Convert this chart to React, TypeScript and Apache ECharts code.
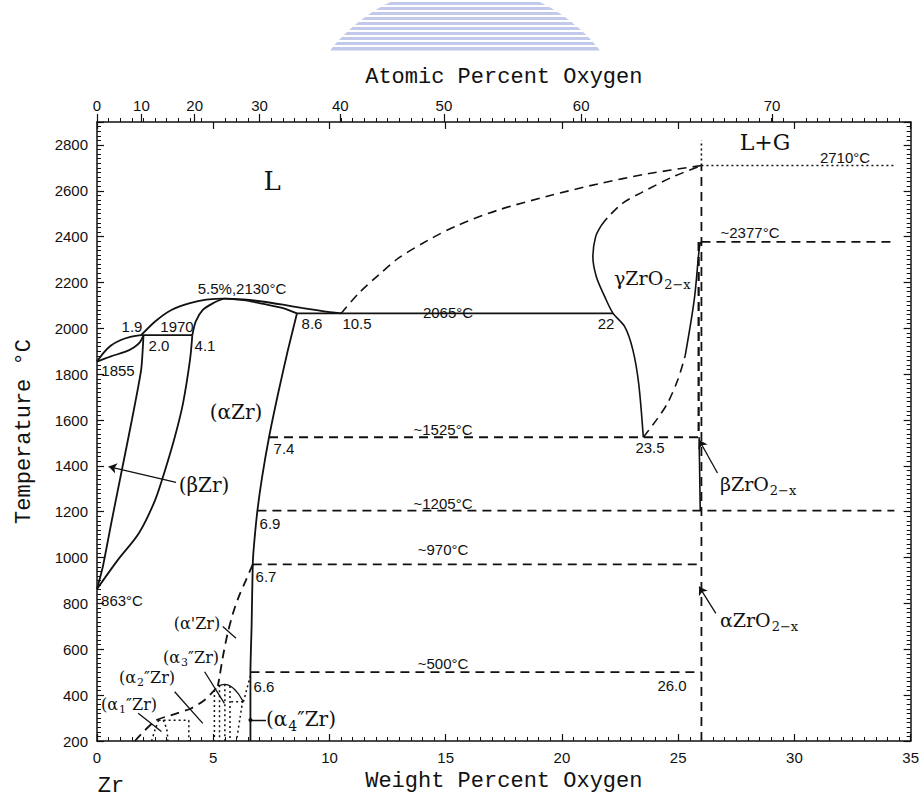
import React, { useEffect, useRef } from 'react';
import * as echarts from 'echarts';

const MONO = '"Liberation Mono", "DejaVu Sans Mono", monospace';
const SANS = '"Liberation Sans", Arial, sans-serif';
const SERIF = '"DejaVu Serif", "Liberation Serif", serif';
const INK = '#111';

// ---- axes ----
const atomicTicks = [0, 10, 20, 30, 40, 50, 60, 70];
const atToWt = (a: number) => (100 * 15.999 * a) / (15.999 * a + 91.224 * (100 - a));
const atomicWt = atomicTicks.map(atToWt);

// ---- phase boundaries [wt% O, °C] ----
const liquidusZr = [[0, 1855], [0.3, 1895], [0.6, 1925], [1.0, 1948], [1.4, 1962], [1.9, 1970]];
const solidusBeta = [[0, 1855], [0.6, 1878], [1.2, 1897], [1.6, 1918], [1.85, 1940], [2.0, 1970]];
const peritectic = [[1.9, 1970], [4.1, 1970]];
const betaTransus = [[2.0, 1970], [1.9, 1820], [1.5, 1600], [1.07, 1382], [0.64, 1164], [0.25, 960], [0, 863]];
const alphaBeta = [[0, 863], [0.9, 990], [1.8, 1106], [2.5, 1251], [2.93, 1382], [3.35, 1527], [3.7, 1673], [4.0, 1862], [4.1, 1970]];
const liquidusMax = [[1.9, 1970], [2.5, 2030], [3.2, 2080], [4.0, 2110], [4.7, 2125], [5.5, 2130], [6.3, 2126], [7.1, 2117], [8.0, 2103], [8.8, 2089], [9.7, 2075], [10.5, 2065]];
const solidusAlpha = [[4.1, 1970], [4.25, 2030], [4.55, 2080], [5.0, 2110], [5.5, 2130], [6.3, 2123], [7.1, 2108], [8.0, 2088], [8.6, 2065]];
const eutectic = [[8.6, 2065], [22.2, 2065]];
const alphaSolvus = [[8.6, 2065], [8.2, 1900], [7.8, 1720], [7.4, 1525], [7.1, 1350], [6.9, 1205], [6.75, 1050], [6.7, 970], [6.65, 700], [6.6, 500], [6.6, 200]];
const liquidusOx = [[10.5, 2065], [11.27, 2154], [12.12, 2233], [12.98, 2307], [14.27, 2386], [15.55, 2451], [17.26, 2516], [19.41, 2577], [21.55, 2630], [23.69, 2674], [26.0, 2710]];
const gammaLeftSolid = [[23.5, 1525], [23.3, 1760], [23.05, 1906], [22.7, 2007], [22.2, 2065], [21.84, 2138], [21.48, 2225], [21.33, 2313], [21.45, 2400], [21.7, 2450]];
const gammaLeftDashed = [[21.7, 2450], [22.0, 2487], [22.6, 2545], [23.4, 2591], [24.8, 2662], [26.0, 2710]];
const gammaRightDashed = [[23.5, 1525], [24.1, 1605], [24.55, 1675], [25.0, 1780], [25.3, 1880]];
const gammaRightSolid = [[25.3, 1880], [25.69, 2124], [25.9, 2342], [25.96, 2377]];
const stoichDotted = [[26, 2710], [26, 2820]];
const stoichDashed = [[26, 200], [26, 2710]];
const betaOxideDashed = [[25.88, 2377], [25.88, 1525]];
const betaOxideSolid = [[25.9, 1525], [25.95, 1205]];
const iso2710 = [[26, 2710], [34.3, 2710]];
const iso2377 = [[26, 2377], [34.3, 2377]];
const iso1525 = [[7.4, 1525], [25.9, 1525]];
const iso1205 = [[6.9, 1205], [34.3, 1205]];
const iso970 = [[6.7, 970], [26, 970]];
const iso500 = [[6.6, 500], [26, 500]];
const alphaPrime = [[6.7, 970], [6.4, 900], [6.1, 830], [5.85, 757], [5.62, 670], [5.42, 570], [5.27, 480], [5.2, 440]];
const orderBoundary = [[1.63, 200], [2.06, 247], [2.56, 291], [3.2, 313], [4.06, 343], [4.63, 379], [5.05, 422], [5.2, 440]];
const dome = [[5.2, 440], [5.48, 447], [5.77, 438], [6.05, 410], [6.27, 375]];
const dotA1Left = [[2.35, 200], [2.5, 250], [2.65, 291]];
const dotA1Top = [[2.65, 291], [3.95, 291]];
const dotA1Right = [[2.85, 291], [3.0, 250], [3.05, 200]];
const dotA2Right = [[3.95, 291], [3.95, 200]];
const dotV1 = [[5.05, 422], [5.05, 200]];
const dotV2 = [[5.27, 443], [5.27, 200]];
const dotV3 = [[5.5, 447], [5.5, 200]];
const dotV4 = [[5.72, 440], [5.72, 200]];
const dotRight = [[6.27, 375], [6.15, 300], [6.0, 200]];
const dotA4Top = [[5.77, 371], [6.3, 371]];
const dotA4Link = [[6.3, 371], [6.6, 485]];

// ---- annotation pointers (tip first) ----
const arrowsHead = [
  [[0.5, 1397], [3.4, 1328]],
  [[25.9, 1513], [26.69, 1369]],
  [[25.9, 873], [26.62, 757]],
];
const pointerLines = [
  [[1.77, 321], [2.77, 241]],
  [[3.34, 415], [4.55, 277]],
  [[4.63, 502], [5.48, 364]],
  [[5.41, 699], [5.98, 648]],
];
const dotPointer = [[[6.6, 292], [7.27, 292]]];

const DASH = [9, 6];
const DOT = [2, 3];
function seg(data: number[][], kind: 'solid' | 'dashed' | 'dotted', width = 1.8, smooth: number | boolean = false) {
  return {
    type: 'line',
    data,
    symbol: 'none',
    smooth,
    silent: true,
    xAxisIndex: 0,
    yAxisIndex: 0,
    lineStyle: { color: INK, width, type: kind === 'dashed' ? DASH : kind === 'dotted' ? DOT : 'solid' },
  };
}

type Lab = { t: string; x: number; y: number; f: string; s: number };
const plainLabels: Lab[] = [
  { t: '5.5%,2130°C', x: 242, y: 288, f: SANS, s: 15 },
  { t: '1.9', x: 132, y: 326, f: SANS, s: 15 },
  { t: '1970', x: 177, y: 326, f: SANS, s: 15 },
  { t: '2.0', x: 159, y: 345, f: SANS, s: 15 },
  { t: '4.1', x: 205, y: 345, f: SANS, s: 15 },
  { t: '1855', x: 118, y: 370, f: SANS, s: 15 },
  { t: '8.6', x: 312, y: 323, f: SANS, s: 15 },
  { t: '10.5', x: 357, y: 323, f: SANS, s: 15 },
  { t: '2065°C', x: 448, y: 312, f: SANS, s: 15 },
  { t: '22', x: 606, y: 323, f: SANS, s: 15 },
  { t: '~1525°C', x: 443, y: 429, f: SANS, s: 15 },
  { t: '7.4', x: 284, y: 448, f: SANS, s: 15 },
  { t: '23.5', x: 650, y: 447, f: SANS, s: 15 },
  { t: '~1205°C', x: 443, y: 503, f: SANS, s: 15 },
  { t: '6.9', x: 270, y: 523, f: SANS, s: 15 },
  { t: '~970°C', x: 443, y: 549, f: SANS, s: 15 },
  { t: '6.7', x: 266, y: 576, f: SANS, s: 15 },
  { t: '863°C', x: 122, y: 600, f: SANS, s: 15 },
  { t: '~500°C', x: 443, y: 663, f: SANS, s: 15 },
  { t: '6.6', x: 264, y: 686, f: SANS, s: 15 },
  { t: '26.0', x: 672, y: 685, f: SANS, s: 15 },
  { t: '2710°C', x: 845, y: 157, f: SANS, s: 15 },
  { t: '~2377°C', x: 750, y: 232, f: SANS, s: 15 },
  { t: 'L', x: 272, y: 181, f: SERIF, s: 26 },
  { t: 'L+G', x: 765, y: 142, f: SERIF, s: 22 },
  { t: '(αZr)', x: 236, y: 412, f: SERIF, s: 20 },
  { t: '(βZr)', x: 204, y: 485, f: SERIF, s: 20 },
  { t: "(α'Zr)", x: 197, y: 623, f: SERIF, s: 16 },
  { t: 'Zr', x: 111, y: 786, f: MONO, s: 22 },
];

function richLabel(main: string, sub: string, tail: string, x: number, y: number, size: number, align: string) {
  const txt = `{a|${main}}{s|${sub}}` + (tail ? `{a|${tail}}` : '');
  const pad = Math.round(size * 0.7);
  return {
    type: 'text',
    x,
    y,
    silent: true,
    style: {
      text: txt,
      align,
      verticalAlign: 'middle',
      textAlign: align,
      textVerticalAlign: 'middle',
      fill: INK,
      rich: {
        a: { fontFamily: SERIF, fontSize: size, color: INK },
        s: { fontFamily: SERIF, fontSize: Math.round(size * 0.7), color: INK, padding: [pad, 0, 0, 1] },
      },
    },
  };
}

// watermark (decoration): dome outline cut at y = 50, with horizontal white stripes
const wmPoints: number[][] = [];
for (let i = 0; i <= 40; i++) {
  const ang = 3.81 + ((5.615 - 3.81) * i) / 40;
  wmPoints.push([465 + 172 * Math.cos(ang), 157 + 172 * Math.sin(ang)]);
}
const stripeYs = [0, 5, 10, 15, 20, 25, 30, 35, 40, 45];

const option: any = {
  animation: false,
  backgroundColor: '#fff',
  grid: { left: 97, right: 8, top: 122, bottom: 59, containLabel: false },
  xAxis: [
    {
      type: 'value', position: 'bottom', min: 0, max: 35, interval: 5,
      axisLine: { show: true, onZero: false, lineStyle: { color: INK, width: 1.5 } },
      axisTick: { show: true, inside: true, length: 7, lineStyle: { color: INK, width: 1.2 } },
      minorTick: { show: true, splitNumber: 10, length: 4, lineStyle: { color: INK, width: 1 } },
      axisLabel: { color: INK, fontFamily: SANS, fontSize: 15, margin: 9 },
      splitLine: { show: false },
      name: 'Weight Percent Oxygen', nameLocation: 'middle', nameGap: 29,
      nameTextStyle: { fontFamily: MONO, fontSize: 22, color: INK },
    },
    {
      type: 'value', position: 'top', min: 0, max: 35, interval: 5,
      axisLine: { show: true, onZero: false, lineStyle: { color: INK, width: 1.5 } },
      axisTick: { show: true, inside: true, length: 7, lineStyle: { color: INK, width: 1.2 } },
      axisLabel: { show: false }, splitLine: { show: false },
    },
    {
      type: 'value', position: 'top', min: 0, max: 35, interval: 5,
      axisLine: { show: false }, axisTick: { show: false },
      minorTick: { show: true, splitNumber: 10, length: 4, lineStyle: { color: INK, width: 1 } },
      axisLabel: { show: false }, splitLine: { show: false },
    },
    {
      type: 'value', position: 'top', min: 0, max: 35,
      axisLine: { show: false },
      axisTick: { show: true, inside: false, length: 8, customValues: atomicWt, lineStyle: { color: INK, width: 1.2 } },
      axisLabel: {
        show: true, customValues: atomicWt, color: INK, fontFamily: SANS, fontSize: 15, margin: 9,
        formatter: (v: number) => {
          const i = atomicWt.findIndex((w) => Math.abs(w - v) < 1e-6);
          return i >= 0 ? String(atomicTicks[i]) : '';
        },
      },
      splitLine: { show: false },
      name: 'Atomic Percent Oxygen', nameLocation: 'middle', nameGap: 34,
      nameTextStyle: { fontFamily: MONO, fontSize: 22, color: INK },
    },
  ],
  yAxis: [
    {
      type: 'value', position: 'left', min: 200, max: 2900, interval: 200,
      axisLine: { show: true, onZero: false, lineStyle: { color: INK, width: 1.5 } },
      axisTick: { show: true, inside: true, length: 7, lineStyle: { color: INK, width: 1.2 } },
      minorTick: { show: true, splitNumber: 10, length: 4, lineStyle: { color: INK, width: 1 } },
      axisLabel: { color: INK, fontFamily: SANS, fontSize: 15, margin: 9, showMaxLabel: false, formatter: (v: number) => String(v) },
      splitLine: { show: false },
      name: 'Temperature °C', nameLocation: 'middle', nameGap: 62, nameRotate: 90,
      nameTextStyle: { fontFamily: MONO, fontSize: 22, color: INK },
    },
    {
      type: 'value', position: 'right', min: 200, max: 2900, interval: 200,
      axisLine: { show: true, onZero: false, lineStyle: { color: INK, width: 1.5 } },
      axisTick: { show: true, inside: true, length: 7, lineStyle: { color: INK, width: 1.2 } },
      minorTick: { show: true, splitNumber: 10, length: 4, lineStyle: { color: INK, width: 1 } },
      axisLabel: { show: false }, splitLine: { show: false },
    },
  ],
  series: [
    seg(liquidusZr, 'solid', 1.8, 0.3),
    seg(solidusBeta, 'solid', 1.8, 0.3),
    seg(peritectic, 'solid'),
    seg(betaTransus, 'solid', 1.8, 0.2),
    seg(alphaBeta, 'solid', 1.8, 0.3),
    seg(liquidusMax, 'solid', 1.8, 0.3),
    seg(solidusAlpha, 'solid', 1.8, 0.3),
    seg(eutectic, 'solid'),
    seg(alphaSolvus, 'solid', 1.8, 0.2),
    seg(liquidusOx, 'dashed', 1.6, 0.3),
    seg(gammaLeftSolid, 'solid', 1.6, 0.3),
    seg(gammaLeftDashed, 'dashed', 1.6, 0.3),
    seg(gammaRightDashed, 'dashed', 1.6, 0.3),
    seg(gammaRightSolid, 'solid', 1.6, 0.3),
    seg(stoichDotted, 'dotted', 1.6),
    seg(stoichDashed, 'dashed', 1.8),
    seg(betaOxideDashed, 'dashed', 2.2),
    seg(betaOxideSolid, 'solid', 1.6),
    seg(iso2710, 'dotted', 1.6),
    seg(iso2377, 'dashed', 1.8),
    seg(iso1525, 'dashed', 1.8),
    seg(iso1205, 'dashed', 1.8),
    seg(iso970, 'dashed', 1.8),
    seg(iso500, 'dashed', 1.8),
    seg(alphaPrime, 'dashed', 1.8, 0.3),
    seg(orderBoundary, 'dashed', 1.8, 0.3),
    seg(dome, 'solid', 1.3, 0.3),
    seg(dotA1Left, 'dotted', 1.5, 0.3),
    seg(dotA1Top, 'dotted', 1.5),
    seg(dotA1Right, 'dotted', 1.5, 0.3),
    seg(dotA2Right, 'dotted', 1.5),
    seg(dotV1, 'dotted', 1.5),
    seg(dotV2, 'dotted', 1.5),
    seg(dotV3, 'dotted', 1.5),
    seg(dotV4, 'dotted', 1.5),
    seg(dotRight, 'dotted', 1.5, 0.3),
    seg(dotA4Top, 'dotted', 1.5),
    seg(dotA4Link, 'dotted', 1.5),
    {
      type: 'lines', coordinateSystem: 'cartesian2d', xAxisIndex: 0, yAxisIndex: 0, silent: true,
      symbol: ['arrow', 'none'], symbolSize: 8,
      lineStyle: { color: INK, width: 1.3, opacity: 1, curveness: 0 },
      data: arrowsHead.map((c) => ({ coords: c })),
    },
    {
      type: 'lines', coordinateSystem: 'cartesian2d', xAxisIndex: 0, yAxisIndex: 0, silent: true,
      symbol: ['none', 'none'],
      lineStyle: { color: INK, width: 1.3, opacity: 1, curveness: 0 },
      data: pointerLines.map((c) => ({ coords: c })),
    },
    {
      type: 'lines', coordinateSystem: 'cartesian2d', xAxisIndex: 0, yAxisIndex: 0, silent: true,
      symbol: ['circle', 'none'], symbolSize: 4,
      lineStyle: { color: INK, width: 1.3, opacity: 1, curveness: 0 },
      data: dotPointer.map((c) => ({ coords: c })),
    },
  ],
  graphic: [
    {
      type: 'polygon', silent: true, z: -10,
      shape: { points: wmPoints },
      style: { fill: '#c3c9ea' },
    },
    ...stripeYs.map((y) => ({
      type: 'rect', silent: true, z: -9,
      shape: { x: 280, y, width: 380, height: 2 },
      style: { fill: '#fff' },
    })),
    ...plainLabels.map((l) => ({
      type: 'text', x: l.x, y: l.y, silent: true,
      style: {
        text: l.t, fontFamily: l.f, fontSize: l.s, fill: INK,
        align: 'center', verticalAlign: 'middle', textAlign: 'center', textVerticalAlign: 'middle',
      },
    })),
    richLabel('γZrO', '2−x', '', 614, 278, 19, 'left'),
    richLabel('βZrO', '2−x', '', 720, 484, 19, 'left'),
    richLabel('αZrO', '2−x', '', 720, 620, 19, 'left'),
    richLabel('(α', '1', '″Zr)', 129, 704, 16, 'center'),
    richLabel('(α', '2', '″Zr)', 147, 677, 16, 'center'),
    richLabel('(α', '3', '″Zr)', 191, 657, 16, 'center'),
    richLabel('(α', '4', '″Zr)', 301, 719, 20, 'center'),
  ],
};

export default function App() {
  const ref = useRef<HTMLDivElement>(null);
  useEffect(() => {
    if (!ref.current) return;
    const chart = echarts.init(ref.current, null, { renderer: 'svg' });
    chart.setOption(option);
    return () => chart.dispose();
  }, []);
  return (
    <div
      ref={ref}
      style={{ position: 'absolute', left: 0, top: 0, width: 922, height: 800, background: '#fff' }}
    />
  );
}
